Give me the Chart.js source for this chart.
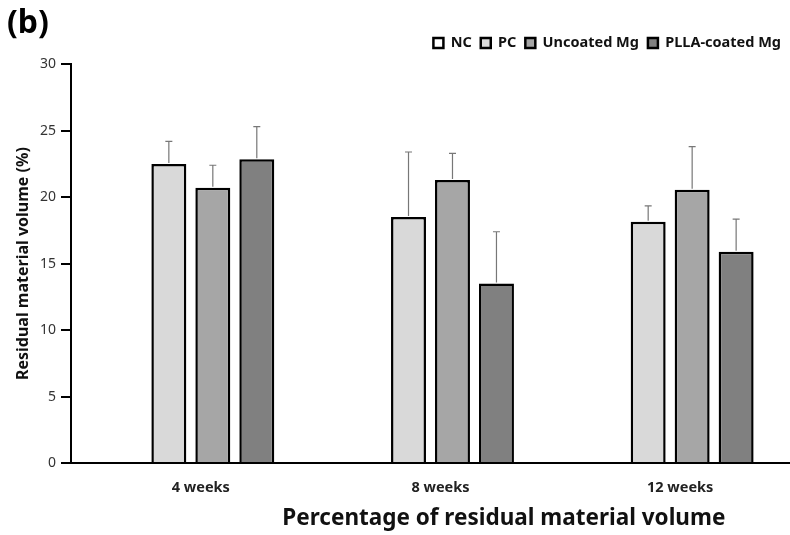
<!DOCTYPE html>
<html>
<head>
<meta charset="utf-8">
<script src="https://cdn.jsdelivr.net/npm/chart.js@4.4.1/dist/chart.umd.min.js"></script>
<style>
  body { margin: 0; background: #fff; }
  canvas { display: block; }
</style>
</head>
<body>
<canvas id="chart" width="790" height="535"></canvas>
<script>
// values (residual material volume, %)
const weeks = ['4 weeks', '8 weeks', '12 weeks'];
const ncValues = [null, null, null];
const pcValues = [22.5, 18.5, 18.15];
const uncoatedValues = [20.7, 21.3, 20.55];
const pllaValues = [22.85, 13.5, 15.9];

// upper error (SD)
const ncErrors = [null, null, null];
const pcErrors = [1.7, 4.9, 1.2];
const uncoatedErrors = [1.7, 2.0, 3.25];
const pllaErrors = [2.45, 3.9, 2.45];

const yMin = 0;
const yMax = 30;
const yStep = 5;

const xTitle = 'Percentage of residual material volume';
const yTitle = 'Residual material volume (%)';

const FONT = "'Noto Sans', sans-serif";

function makeSet(label, vals, errs, color) {
  return {
    label,
    data: vals,
    errors: errs,
    backgroundColor: color,
    borderColor: '#000',
    borderWidth: 2.5,
    categoryPercentage: 0.734,
    barPercentage: 0.795,
  };
}

// upper error bars
const errorBars = {
  id: 'errorBars',
  afterDatasetsDraw(chart) {
    const ctx = chart.ctx;
    const y = chart.scales.y;
    ctx.save();
    ctx.strokeStyle = '#777';
    ctx.lineWidth = 1.2;
    chart.data.datasets.forEach((ds, di) => {
      const meta = chart.getDatasetMeta(di);
      meta.data.forEach((bar, i) => {
        const v = ds.data[i];
        const err = ds.errors[i];
        if (v == null || err == null) return;
        const top = y.getPixelForValue(v + err);
        ctx.beginPath();
        ctx.moveTo(bar.x, bar.y - 1);
        ctx.lineTo(bar.x, top);
        ctx.moveTo(bar.x - 3.5, top);
        ctx.lineTo(bar.x + 3.5, top);
        ctx.stroke();
      });
    });
    ctx.restore();
  }
};

// x axis title sits right of centre in the original
const xAxisTitle = {
  id: 'xAxisTitle',
  afterDraw(chart) {
    const ctx = chart.ctx;
    const area = chart.chartArea;
    ctx.save();
    ctx.font = 'bold 22.5px ' + FONT;
    ctx.fillStyle = '#111';
    ctx.textAlign = 'center';
    ctx.textBaseline = 'middle';
    ctx.fillText(xTitle, area.left + (area.right - area.left) * 0.602, chart.height - 16);
    ctx.restore();
  }
};

// a bit more room under the legend
const legendGap = {
  id: 'legendGap',
  afterInit(chart) {
    const fit = chart.legend.fit;
    chart.legend.fit = function () {
      fit.call(this);
      this.height += 4;
    };
  }
};

new Chart('chart', {
  type: 'bar',
  data: {
    labels: weeks,
    datasets: [
      makeSet('NC', ncValues, ncErrors, '#ffffff'),
      makeSet('PC', pcValues, pcErrors, '#d9d9d9'),
      makeSet('Uncoated Mg', uncoatedValues, uncoatedErrors, '#a6a6a6'),
      makeSet('PLLA-coated Mg', pllaValues, pllaErrors, '#808080'),
    ],
  },
  options: {
    responsive: false,
    devicePixelRatio: 1,
    animation: false,
    layout: {padding: {left: 7, right: 0, top: 0, bottom: 0}},
    plugins: {
      tooltip: {enabled: false},
      title: {
        display: true,
        text: '(b)',
        align: 'start',
        color: '#000',
        font: {family: FONT, size: 32, weight: 'bold', lineHeight: 1},
        padding: {top: 8, bottom: -13.25},
      },
      legend: {
        position: 'top',
        align: 'end',
        labels: {
          boxWidth: 10,
          boxHeight: 10,
          padding: 9,
          color: '#111',
          font: {family: FONT, size: 14.5, weight: 'bold'},
        },
      },
    },
    scales: {
      x: {
        grid: {display: false, drawTicks: false},
        border: {display: true, color: '#000', width: 2},
        ticks: {
          padding: 16,
          labelOffset: 10,
          color: '#222',
          font: {family: FONT, size: 14.5, weight: 'bold'},
        },
        afterFit: (s) => { s.height = 72; },
      },
      y: {
        min: yMin,
        max: yMax,
        grid: {drawOnChartArea: false, drawTicks: true, tickLength: 10, color: '#000', lineWidth: 2},
        border: {display: true, color: '#000', width: 2},
        ticks: {
          stepSize: yStep,
          padding: 5,
          color: '#333',
          font: {family: FONT, size: 14},
        },
        title: {
          display: true,
          text: yTitle,
          color: '#111',
          font: {family: FONT, size: 16, weight: 'bold'},
          padding: {top: 7, bottom: 0},
        },
        afterFit: (s) => { s.width = 64; },
      },
    },
  },
  plugins: [errorBars, xAxisTitle, legendGap],
});
</script>
</body>
</html>
